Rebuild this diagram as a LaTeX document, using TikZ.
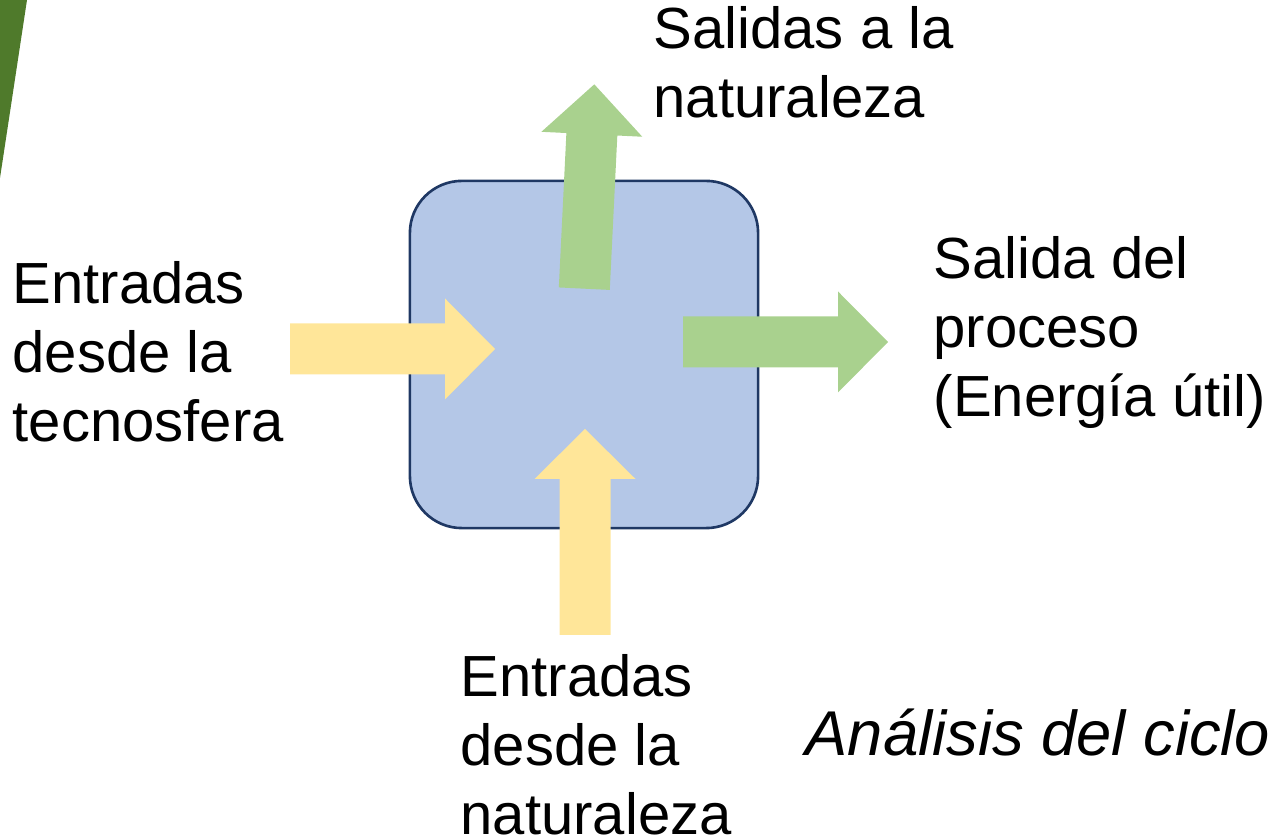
\documentclass[tikz,border=0pt]{standalone}
\usepackage{fontspec}
\setmainfont{Liberation Sans}
\usetikzlibrary{calc}
\definecolor{boxblue}{HTML}{B4C7E7}
\definecolor{boxline}{HTML}{1F3864}
\definecolor{inyellow}{HTML}{FFE699}
\definecolor{outgreen}{HTML}{A9D18E}
\definecolor{leafgreen}{HTML}{4F7A2B}
\def\blockarrow[#1](#2)(#3:#4){\fill[#1,shift={(#2)},rotate=#3] (0,-25.5) -- (#4-50,-25.5) -- (#4-50,-50.5) -- (#4,0) -- (#4-50,50.5) -- (#4-50,25.5) -- (0,25.5) -- cycle;}
\tikzset{
	label text/.style={anchor=base west, inner sep=0pt, align=left, font=\fontsize{16.5}{19.7}\selectfont},
}

\begin{document}
\begin{tikzpicture}[x=0.01cm, y=0.01cm]
				\useasboundingbox (0,0) rectangle (1270,840);
				\clip (0,0) rectangle (1270,840);
				
				\fill[leafgreen] (0,840) -- (27,840) -- (0,662) -- cycle;
				
				\node[draw=boxline, line width=0.75pt, fill=boxblue, rounded corners=0.52cm, minimum width=3.48cm, minimum height=3.47cm, inner sep=0pt] (proceso) at (584,485.5) {};
				
				\blockarrow[inyellow](290,491)(0:205);
				\blockarrow[outgreen](683,498)(0:205);
				\blockarrow[inyellow](585,205)(90:206);
				\blockarrow[outgreen](584.3,551.3)(87.2:204.6);
				
				\node[label text] (tecnosfera) at (12,398) {Entradas\\desde la\\tecnosfera};
				\node[label text] (salidasnat) at (653,722) {Salidas a la\\naturaleza};
				\node[label text] (salidaproc) at (933,423) {Salida del\\proceso\\(Energía útil)};
				\node[label text] (entradasnat) at (460,5) {Entradas\\desde la\\naturaleza};
				\node[label text, font=\fontsize{18}{21}\selectfont\itshape] (acv) at (805,84) {Análisis del ciclo};
			\end{tikzpicture}
\end{document}
